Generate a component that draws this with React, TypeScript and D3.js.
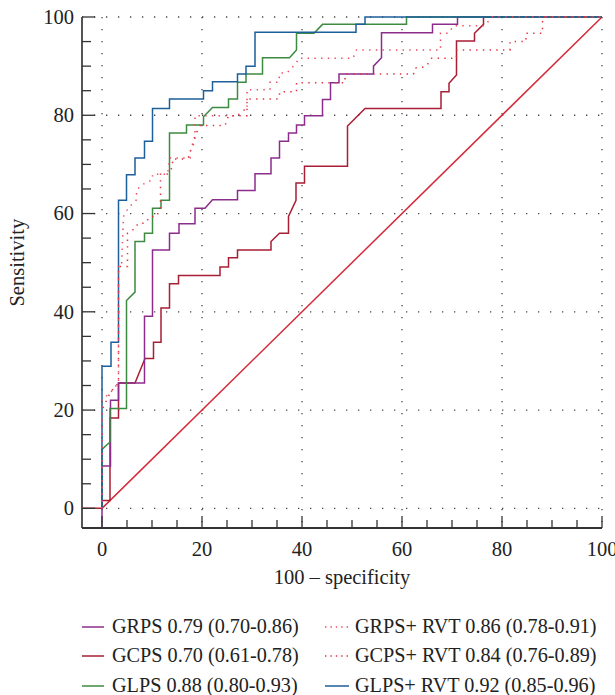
import React from 'react';
import * as d3 from 'd3';

type Pt = [number, number];

// ROC curves: [100 - specificity, sensitivity]
const GRPS: Pt[] = [[0, -4], [0, 8.6], [1.7, 8.6], [1.7, 22], [3.3, 22], [3.3, 25.5], [8.5, 25.5], [8.5, 39.1], [10.1, 39.1], [10.1, 52.6], [13.5, 52.6], [13.5, 56], [15.4, 56], [15.4, 57.9], [18.6, 57.9], [18.6, 61.1], [20.6, 61.1], [22.1, 62.8], [27.1, 62.8], [27.1, 64.7], [30.6, 64.7], [30.6, 68.1], [33.8, 68.1], [33.8, 71.3], [35.5, 71.3], [35.5, 74.7], [37.3, 74.7], [37.3, 76.4], [38.9, 76.4], [38.9, 78], [40.5, 78], [40.5, 79.9], [44.1, 79.9], [44.1, 83.2], [45.7, 83.2], [45.7, 86.6], [47.4, 86.6], [47.4, 88.4], [54.3, 88.4], [54.3, 90], [55.9, 91.7], [55.9, 96.8], [66.1, 96.8], [66.1, 98.5], [71.1, 98.5], [71.1, 100], [100, 100]];
const GCPS: Pt[] = [[-4, 0], [0, 0], [0, 1.6], [1.6, 1.6], [1.6, 18.4], [3.3, 18.4], [3.3, 25.5], [6.6, 25.5], [8.6, 30.5], [10.3, 30.5], [10.3, 33.8], [11.8, 33.8], [11.8, 40.8], [13.5, 40.8], [13.5, 45.7], [15.3, 45.7], [15.3, 47.4], [23.6, 47.4], [23.6, 49.1], [25.3, 49.1], [25.3, 51], [27.1, 51], [27.1, 52.6], [33.8, 52.6], [33.8, 54.3], [35.5, 56], [37.3, 56], [37.3, 59.4], [38.8, 62.7], [38.8, 66.2], [40.5, 66.2], [40.5, 69.6], [49.1, 69.6], [49.1, 77.8], [52.6, 81.4], [67.8, 81.4], [67.8, 84.8], [69.4, 84.8], [69.4, 86.5], [70.9, 88.2], [70.9, 95.1], [74.5, 95.1], [74.5, 96.7], [76.3, 98.5], [76.3, 100], [100, 100]];
const GLPS: Pt[] = [[0, 0], [0, 12], [1.6, 13.5], [1.6, 20.3], [4.9, 20.3], [4.9, 42.3], [6.6, 44], [6.6, 54.3], [8.5, 54.3], [8.5, 56], [10.1, 56], [10.1, 61.1], [11.8, 61.1], [11.8, 62.7], [13.5, 62.7], [13.5, 76.4], [16.9, 76.4], [16.9, 78], [20.3, 78], [20.3, 79.7], [22.1, 81.6], [25.3, 81.6], [25.3, 83.3], [27.1, 83.3], [27.1, 86.7], [28.8, 86.7], [28.8, 88.4], [32.1, 88.4], [32.1, 91.7], [37.5, 91.7], [38.9, 93.3], [38.9, 96.7], [42.4, 96.7], [44.1, 98.5], [60.9, 98.5], [60.9, 100], [100, 100]];
const GRPS_RVT: Pt[] = [[0, 0], [0, 22], [1.6, 23.5], [3.3, 25.5], [3.3, 49.2], [3.9, 49.2], [4.3, 59.4], [5.3, 61.2], [6.9, 62.8], [6.9, 64.8], [8.1, 65.9], [10.1, 66.9], [10.1, 68], [13.1, 68], [13.6, 71.3], [17.6, 71.3], [17.6, 72.5], [18.6, 74.7], [18.6, 79.9], [27, 79.9], [28.5, 81.1], [29, 81.1], [29, 85.2], [33.6, 85.2], [33.6, 86.7], [35.3, 86.7], [35.6, 88.6], [37, 88.6], [38.9, 90.7], [39.3, 91.6], [50.2, 91.6], [50.9, 93.3], [67.7, 93.3], [67.7, 96.7], [69.3, 96.7], [70.3, 98.2], [76.5, 98.2], [78, 100], [100, 100]];
const GCPS_RVT: Pt[] = [[0, 0], [0, 20], [1.6, 23.5], [3.3, 25.5], [3.3, 49.2], [5.1, 49.2], [5.1, 56], [6.7, 57], [7.2, 58], [8.6, 58], [9.6, 59.4], [10.9, 59.4], [11.7, 61.2], [11.7, 68], [13, 68], [14.1, 69.4], [14.1, 71.1], [16.6, 71.1], [17.3, 71.5], [18.6, 75.8], [19.6, 77.9], [24.6, 77.9], [25.3, 79.9], [29, 79.9], [29, 83.3], [35.3, 83.3], [35.6, 84.8], [38.9, 84.8], [38.9, 86.6], [48.6, 86.6], [48.6, 88.4], [62.3, 88.4], [62.6, 89.6], [64.8, 89.9], [65.9, 91.6], [70.9, 91.6], [70.9, 93.3], [81.6, 93.3], [81.6, 95], [84.8, 95], [84.8, 96.7], [88.1, 96.7], [88.1, 100], [100, 100]];
const GLPS_RVT: Pt[] = [[0, 0], [0, 28.9], [1.8, 28.9], [1.8, 33.8], [3.3, 33.8], [3.3, 62.7], [4.9, 62.7], [4.9, 67.9], [6.6, 67.9], [6.6, 71.3], [8.5, 71.3], [8.5, 74.7], [10.1, 74.7], [10.1, 81.4], [13.5, 81.4], [13.5, 83.3], [20.3, 83.3], [20.3, 85], [22.1, 85], [22.1, 86.8], [27.1, 86.8], [27.1, 88.4], [28.8, 88.4], [28.8, 90], [30.6, 90], [30.6, 96.9], [50.8, 96.9], [50.8, 98.5], [52.6, 98.5], [52.6, 100], [100, 100]];
const DIAGONAL: Pt[] = [[0, 0], [100, 100]];

const minorTicks = d3.range(0, 101, 5);
const majorTicks = [0, 20, 40, 60, 80, 100];

const legendLeft = ['GRPS 0.79 (0.70-0.86)', 'GCPS 0.70 (0.61-0.78)', 'GLPS 0.88 (0.80-0.93)'];
const legendRight = ['GRPS+ RVT 0.86 (0.78-0.91)', 'GCPS+ RVT 0.84 (0.76-0.89)', 'GLPS+ RVT 0.92 (0.85-0.96)'];

const PURPLE = '#8c2d8c';
const CRIMSON = '#a81e34';
const GREEN = '#3d8b40';
const BLUE = '#1d5f9a';
const RED = '#d42a3a';
const DOT_PINK = '#ec4a5c';
const DOT_RED = '#e4303c';

const FONT = '"Liberation Serif", "Times New Roman", serif';

export default function App() {
  const x = d3.scaleLinear().domain([-4, 100]).range([82, 602]);
  const y = d3.scaleLinear().domain([-4, 100]).range([528, 17]);
  const line = d3.line<Pt>().x(d => x(d[0])).y(d => y(d[1]));

  const series = [
    { data: DIAGONAL, color: RED, dash: undefined },
    { data: GCPS, color: CRIMSON, dash: undefined },
    { data: GRPS, color: PURPLE, dash: undefined },
    { data: GLPS, color: GREEN, dash: undefined },
    { data: GLPS_RVT, color: BLUE, dash: undefined },
    { data: GCPS_RVT, color: DOT_RED, dash: '1.4 5.3' },
    { data: GRPS_RVT, color: DOT_PINK, dash: '1.4 5.3' },
  ];

  const leftColor = [PURPLE, CRIMSON, GREEN];
  const rightColor = [DOT_PINK, DOT_RED, BLUE];
  const rightDash = ['1.4 4', '1.4 4', undefined];
  const rowBase = [633, 662, 692];

  return (
    <svg width={615} height={695} style={{ position: 'absolute', left: 0, top: 0, background: '#fff' }} fontFamily={FONT}>
      {/* dotted grid */}
      <g stroke="#444" strokeWidth={1.3} strokeDasharray="1.3 10.7">
        {majorTicks.map(t => (
          <line key={'gx' + t} x1={x(t)} x2={x(t)} y1={y(100)} y2={y(-4)} />
        ))}
        {majorTicks.map(t => (
          <line key={'gy' + t} x1={x(-4)} x2={x(100)} y1={y(t)} y2={y(t)} />
        ))}
      </g>

      {/* curves */}
      {series.map((s, i) => (
        <path key={i} d={line(s.data) || ''} fill="none" stroke={s.color} strokeWidth={1.5}
          strokeDasharray={s.dash} strokeLinejoin="miter" />
      ))}

      {/* axes */}
      <g stroke="#333" strokeWidth={1.3}>
        <line x1={x(-4)} x2={x(-4)} y1={y(100)} y2={y(-4)} strokeWidth={2} stroke="#555" />
        <line x1={x(-4)} x2={x(100)} y1={y(-4)} y2={y(-4)} strokeWidth={2} stroke="#333" />
        {minorTicks.map(t => (
          <line key={'ty' + t} x1={x(-4)} x2={x(-4) + (t % 20 === 0 ? 13 : 9)} y1={y(t)} y2={y(t)} />
        ))}
        {minorTicks.map(t => (
          <line key={'tx' + t} x1={x(t)} x2={x(t)} y1={y(-4)} y2={y(-4) - (t % 20 === 0 ? 12 : 8)} />
        ))}
      </g>

      <g fontSize={20.5} fill="#222">
        {majorTicks.map(t => (
          <text key={'ly' + t} x={74} y={y(t)} dy="0.33em" textAnchor="end">{t}</text>
        ))}
        {majorTicks.map(t => (
          <text key={'lx' + t} x={x(t)} y={556} textAnchor="middle">{t}</text>
        ))}
        <text x={342} y={584} textAnchor="middle">100 – specificity</text>
        <text transform={`translate(24, ${y(50)}) rotate(-90)`} textAnchor="middle">Sensitivity</text>
      </g>

      {/* legend */}
      <g fontSize={20.2} fill="#222">
        {legendLeft.map((label, i) => (
          <g key={'ll' + i}>
            <line x1={82} x2={104} y1={rowBase[i] - 6} y2={rowBase[i] - 6} stroke={leftColor[i]} strokeWidth={1.5} />
            <text x={112} y={rowBase[i]}>{label}</text>
          </g>
        ))}
        {legendRight.map((label, i) => (
          <g key={'lr' + i}>
            <line x1={325} x2={349} y1={rowBase[i] - 6} y2={rowBase[i] - 6} stroke={rightColor[i]} strokeWidth={1.5}
              strokeDasharray={rightDash[i]} />
            <text x={355} y={rowBase[i]}>{label}</text>
          </g>
        ))}
      </g>
    </svg>
  );
}
